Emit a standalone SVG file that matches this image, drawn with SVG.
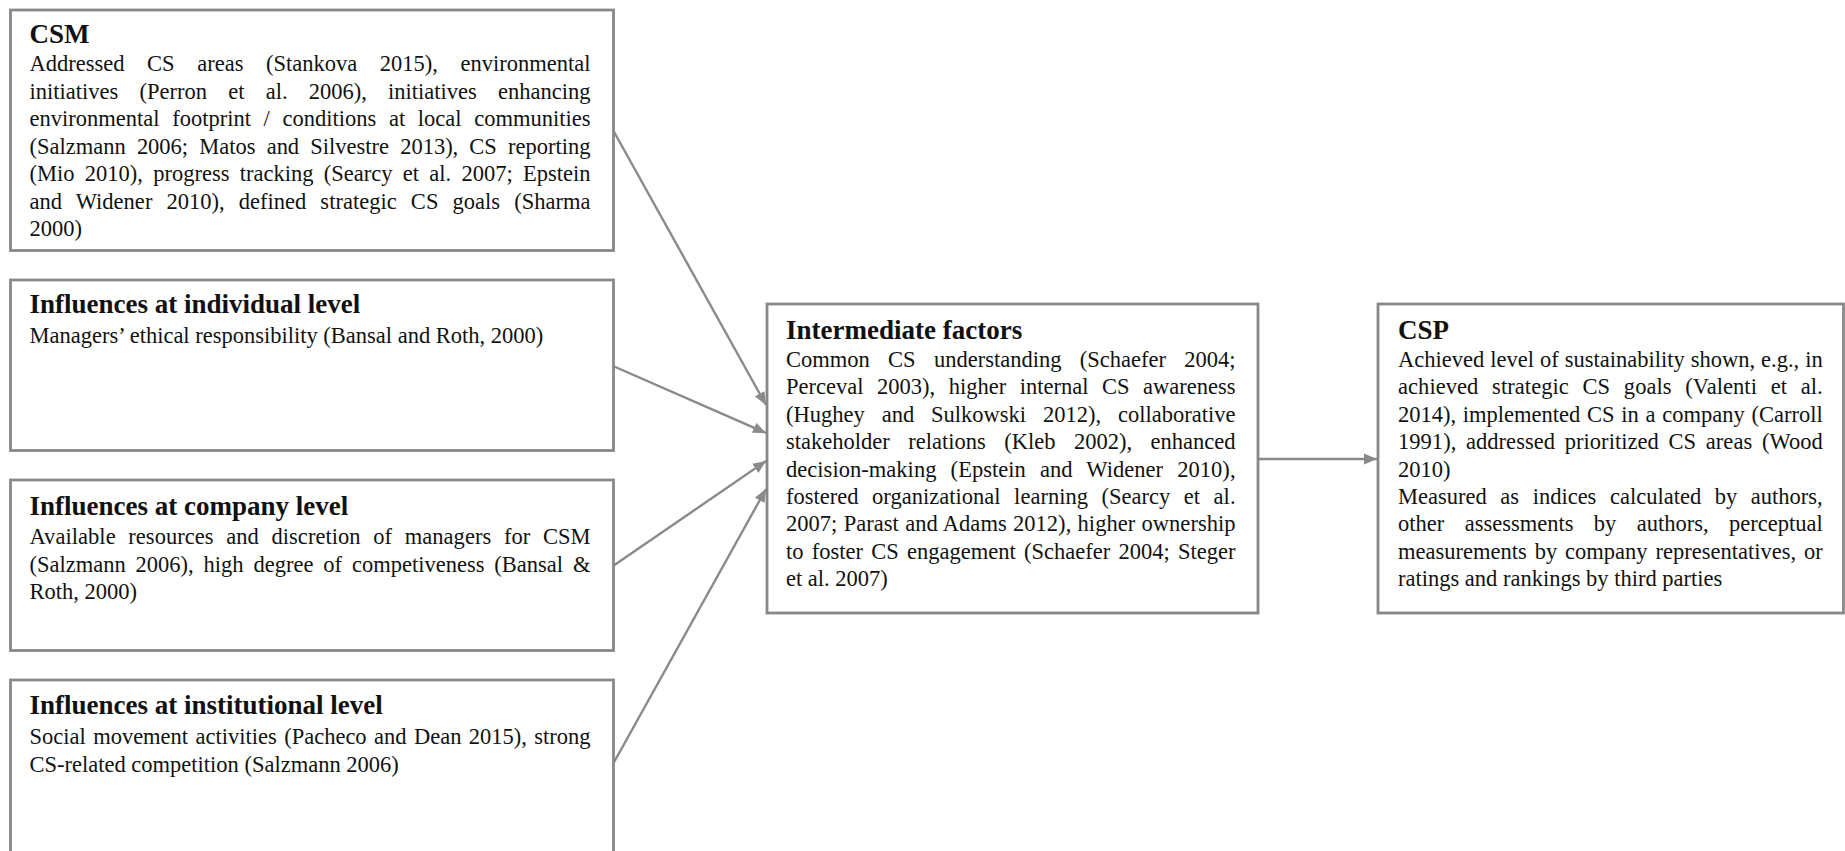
<svg xmlns="http://www.w3.org/2000/svg" width="1845" height="851" viewBox="0 0 1845 851">
<style>
.box{fill:#fff;stroke:#888;stroke-width:2.8}
.h{font-family:"Liberation Serif","Times New Roman",serif;font-weight:bold;font-size:27px;fill:#111}
.t{font-family:"Liberation Serif","Times New Roman",serif;font-size:22.5px;fill:#111}
.c{stroke:#8a8a8a;stroke-width:2.4;fill:none;marker-end:url(#ah)}
</style>
<defs>
<marker id="ah" markerUnits="userSpaceOnUse" markerWidth="14" markerHeight="12" refX="13" refY="6" orient="auto">
<path d="M0,0.5 L13,6 L0,11.5 z" fill="#8a8a8a"/>
</marker>
</defs>
<rect width="1845" height="851" fill="#fff"/>
<g id="connectors">
<line class="c" x1="613" y1="130" x2="766" y2="405"/>
<line class="c" x1="613" y1="366" x2="766" y2="433"/>
<line class="c" x1="613" y1="566" x2="766" y2="461"/>
<line class="c" x1="613" y1="764" x2="766" y2="489"/>
<line class="c" x1="1258" y1="459" x2="1377" y2="459"/>
</g>
<g id="csm">
<rect class="box" x="10.5" y="10" width="603" height="240.5"/>
<text class="h" x="29.5" y="43">CSM</text>
<text class="t" x="29.5" y="71" word-spacing="17" textLength="561" lengthAdjust="spacing">Addressed CS areas (Stankova 2015), environmental</text>
<text class="t" x="29.5" y="98.5" word-spacing="15.6" textLength="561" lengthAdjust="spacing">initiatives (Perron et al. 2006), initiatives enhancing</text>
<text class="t" x="29.5" y="126" word-spacing="7" textLength="561" lengthAdjust="spacing">environmental footprint / conditions at local communities</text>
<text class="t" x="29.5" y="153.5" word-spacing="5.5" textLength="561" lengthAdjust="spacing">(Salzmann 2006; Matos and Silvestre 2013), CS reporting</text>
<text class="t" x="29.5" y="181" word-spacing="4.7" textLength="561" lengthAdjust="spacing">(Mio 2010), progress tracking (Searcy et al. 2007; Epstein</text>
<text class="t" x="29.5" y="208.5" word-spacing="8.4" textLength="561" lengthAdjust="spacing">and Widener 2010), defined strategic CS goals (Sharma</text>
<text class="t" x="29.5" y="236">2000)</text>
</g>
<g id="individual">
<rect class="box" x="10.5" y="280" width="603" height="170.5"/>
<text class="h" x="29.5" y="313">Influences at individual level</text>
<text class="t" x="29.5" y="343">Managers’ ethical responsibility (Bansal and Roth, 2000)</text>
</g>
<g id="company">
<rect class="box" x="10.5" y="480" width="603" height="170.5"/>
<text class="h" x="29.5" y="515">Influences at company level</text>
<text class="t" x="29.5" y="544" word-spacing="7" textLength="561" lengthAdjust="spacing">Available resources and discretion of managers for CSM</text>
<text class="t" x="29.5" y="571.5" word-spacing="4.3" textLength="561" lengthAdjust="spacing">(Salzmann 2006), high degree of competiveness (Bansal &amp;</text>
<text class="t" x="29.5" y="599">Roth, 2000)</text>
</g>
<g id="institutional">
<rect class="box" x="10.5" y="680" width="603" height="200"/>
<text class="h" x="29.5" y="714">Influences at institutional level</text>
<text class="t" x="29.5" y="744" word-spacing="1.8" textLength="561" lengthAdjust="spacing">Social movement activities (Pacheco and Dean 2015), strong</text>
<text class="t" x="29.5" y="771.5">CS-related competition (Salzmann 2006)</text>
</g>
<g id="intermediate">
<rect class="box" x="767" y="304" width="491" height="309"/>
<text class="h" x="786" y="339">Intermediate factors</text>
<text class="t" x="786" y="367" word-spacing="12.7" textLength="449.5" lengthAdjust="spacing">Common CS understanding (Schaefer 2004;</text>
<text class="t" x="786" y="394.4" word-spacing="7.9" textLength="449.5" lengthAdjust="spacing">Perceval 2003), higher internal CS awareness</text>
<text class="t" x="786" y="421.8" word-spacing="11.3" textLength="449.5" lengthAdjust="spacing">(Hughey and Sulkowski 2012), collaborative</text>
<text class="t" x="786" y="449.2" word-spacing="12.9" textLength="449.5" lengthAdjust="spacing">stakeholder relations (Kleb 2002), enhanced</text>
<text class="t" x="786" y="476.6" word-spacing="8.5" textLength="449.5" lengthAdjust="spacing">decision-making (Epstein and Widener 2010),</text>
<text class="t" x="786" y="504" word-spacing="7.9" textLength="449.5" lengthAdjust="spacing">fostered organizational learning (Searcy et al.</text>
<text class="t" x="786" y="531.4" word-spacing="0.65" textLength="449.5" lengthAdjust="spacing">2007; Parast and Adams 2012), higher ownership</text>
<text class="t" x="786" y="558.8" word-spacing="2.6" textLength="449.5" lengthAdjust="spacing">to foster CS engagement (Schaefer 2004; Steger</text>
<text class="t" x="786" y="586.2">et al. 2007)</text>
</g>
<g id="csp">
<rect class="box" x="1378" y="304" width="465.5" height="309"/>
<text class="h" x="1398" y="339">CSP</text>
<text class="t" x="1398" y="367" word-spacing="0.4" textLength="424.7" lengthAdjust="spacing">Achieved level of sustainability shown, e.g., in</text>
<text class="t" x="1398" y="394.4" word-spacing="8" textLength="424.7" lengthAdjust="spacing">achieved strategic CS goals (Valenti et al.</text>
<text class="t" x="1398" y="421.8" word-spacing="1.1" textLength="424.7" lengthAdjust="spacing">2014), implemented CS in a company (Carroll</text>
<text class="t" x="1398" y="449.2" word-spacing="4" textLength="424.7" lengthAdjust="spacing">1991), addressed prioritized CS areas (Wood</text>
<text class="t" x="1398" y="476.6">2010)</text>
<text class="t" x="1398" y="504" word-spacing="8" textLength="424.7" lengthAdjust="spacing">Measured as indices calculated by authors,</text>
<text class="t" x="1398" y="531.4" word-spacing="14.8" textLength="424.7" lengthAdjust="spacing">other assessments by authors, perceptual</text>
<text class="t" x="1398" y="558.8" word-spacing="2.3" textLength="424.7" lengthAdjust="spacing">measurements by company representatives, or</text>
<text class="t" x="1398" y="586.2">ratings and rankings by third parties</text>
</g>
</svg>
